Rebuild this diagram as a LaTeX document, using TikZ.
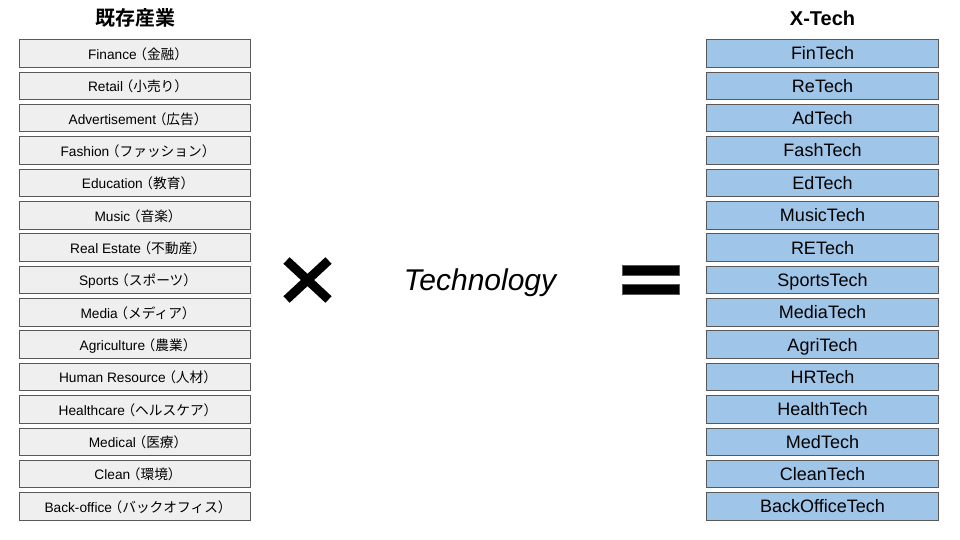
\documentclass[tikz,border=0pt]{standalone}
\usepackage{fontspec}
\setmainfont{Liberation Sans}
\newfontfamily\jp{Noto Sans CJK JP}[BoldFont={Noto Sans CJK JP Bold}]
\newcommand\jpar[1]{\kern-0.25em{\jp （#1）}\kern-0.45em}
\definecolor{leftfill}{HTML}{EFEFEF}
\definecolor{rightfill}{HTML}{9FC5E8}
\definecolor{edge}{HTML}{595959}
\tikzset{
  base/.style={draw=edge, line width=0.9pt, minimum height=27.5pt, inner sep=0pt, anchor=center},
  leftbox/.style={base, fill=leftfill, minimum width=231.5pt, font=\fontsize{13.7}{15}\selectfont, text height=11.8pt, text depth=0pt},
  rightbox/.style={base, fill=rightfill, minimum width=232.5pt, font=\fontsize{18}{20}\selectfont, text height=12.9pt, text depth=0pt},
  header/.style={font=\fontsize{20}{24}\selectfont\bfseries, inner sep=0pt},
  eqbar/.style={draw=edge, fill=black, line width=0.6pt}
}
\begin{document}
\begin{tikzpicture}[x=1pt,y=-1pt]
\useasboundingbox (0,0) rectangle (960,540);
\node[header] (hl) at (135,18) {\jp 既存産業};
\node[header] (hr) at (822.5,18) {X-Tech};
\foreach \i/\l/\r in {
 0/{Finance\jpar{金融}}/FinTech,
 1/{Retail\jpar{小売り}}/ReTech,
 2/{Advertisement\jpar{広告}}/AdTech,
 3/{Fashion\jpar{ファッション}}/FashTech,
 4/{Education\jpar{教育}}/EdTech,
 5/{Music\jpar{音楽}}/MusicTech,
 6/{Real Estate\jpar{不動産}}/RETech,
 7/{Sports\jpar{スポーツ}}/SportsTech,
 8/{Media\jpar{メディア}}/MediaTech,
 9/{Agriculture\jpar{農業}}/AgriTech,
 10/{Human Resource\jpar{人材}}/HRTech,
 11/{Healthcare\jpar{ヘルスケア}}/HealthTech,
 12/{Medical\jpar{医療}}/MedTech,
 13/{Clean\jpar{環境}}/CleanTech,
 14/{Back-office\jpar{バックオフィス}}/BackOfficeTech}{
  \node[leftbox] (l\i) at (135,53.5+\i*32.35) {\l};
  \node[rightbox] (r\i) at (822.5,53.5+\i*32.35) {\r};
}
% times sign
\coordinate (times) at (307.5,280);
\draw[line width=9pt, line cap=butt] ([shift={(-21,-19.5)}]times) -- ([shift={(21,19.5)}]times);
\draw[line width=9pt, line cap=butt] ([shift={(-21,19.5)}]times) -- ([shift={(21,-19.5)}]times);
% Technology
\node[font=\fontsize{30}{34}\selectfont\itshape, inner sep=0pt, text height=21.5pt, text depth=0pt] (tech) at (480,279.5) {Technology};
% equals sign
\coordinate (eq) at (650.5,280);
\draw[eqbar] ([shift={(-28.5,-15)}]eq) rectangle ([shift={(28.5,-5)}]eq);
\draw[eqbar] ([shift={(-28.5,4.5)}]eq) rectangle ([shift={(28.5,14.5)}]eq);
\end{tikzpicture}
\end{document}
